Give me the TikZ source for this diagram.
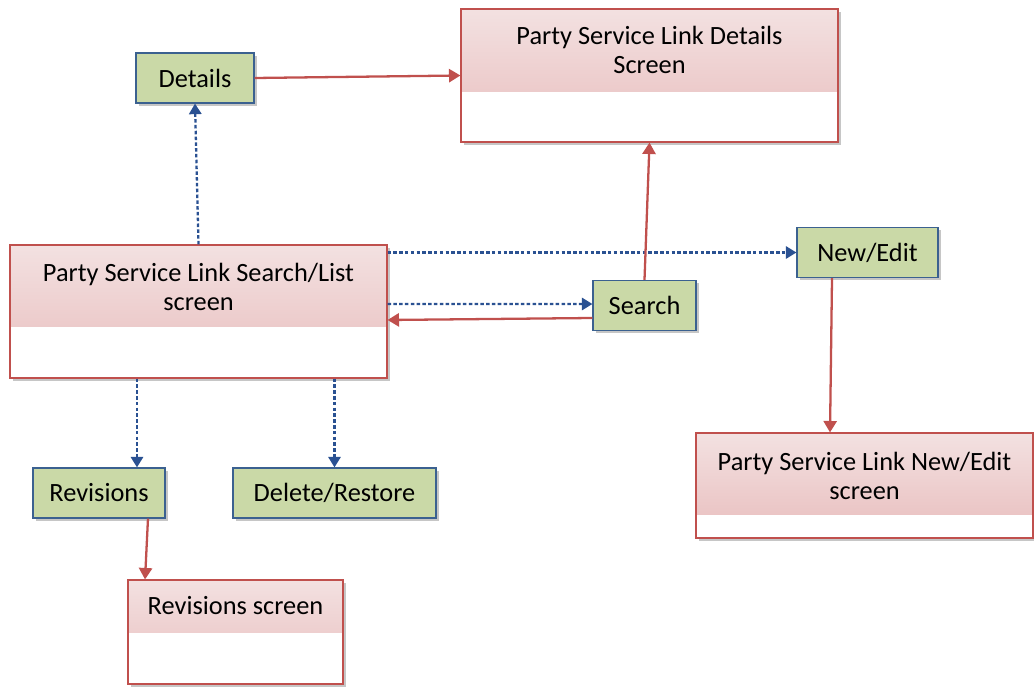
\documentclass[tikz,border=0pt]{standalone}
\usepackage{fontspec}
\setmainfont{Carlito}
\usetikzlibrary{arrows.meta,shadows}
\definecolor{scrred}{HTML}{C0504D}
\definecolor{pinktop}{HTML}{F3E1E1}
\definecolor{pinkbot}{HTML}{E8BDBD}
\definecolor{actfill}{HTML}{CAD9A7}
\definecolor{actline}{HTML}{3B6190}
\definecolor{navlink}{HTML}{2A5192}
\tikzset{
  scrbox/.style={draw=scrred,line width=0.7pt,fill=white,
    drop shadow={shadow xshift=1.6pt,shadow yshift=-1.6pt,opacity=0.45},
    path picture={\shade[top color=pinktop,bottom color=pinkbot]
      (path picture bounding box.north west) rectangle ([yshift=-#1]path picture bounding box.north east);}},
  scrtext/.style={align=center,inner sep=0pt},
  actbox/.style={draw=actline,line width=0.7pt,fill=actfill,minimum height=1cm,
    drop shadow={shadow xshift=1.6pt,shadow yshift=-1.6pt,opacity=0.45}},
  golink/.style={draw=scrred,line width=1.3pt,-{Triangle[width=7.5pt,length=6.5pt]}},
  navlink/.style={draw=navlink,line width=1.3pt,dash pattern=on 2pt off 1.3pt,-{Triangle[width=7pt,length=6pt]}}
}

\begin{document}
\begin{tikzpicture}[x=0.02cm,y=-0.02cm,every node/.style={font=\fontsize{15}{16.5}\selectfont}]
\useasboundingbox (0,0) rectangle (1034,686);
% screens
\foreach \name/\x/\y/\w/\h/\p/\ty/\lab in {%
  dscr/649.5/75.5/7.54/2.66/1.66cm/50/{Party Service Link Details\\Screen},
  lscr/198.5/311.5/7.54/2.66/1.64cm/287/{Party Service Link Search{/}List\\screen},
  nscr/864.5/485.5/6.74/2.10/1.64cm/476/{Party Service Link New{/}Edit\\screen},
  rscr/235.5/632/4.30/2.08/1.04cm/606/{Revisions screen}}{
  \node[scrbox=\p,minimum width=\w cm,minimum height=\h cm] (\name) at (\x,\y) {};
  \node[scrtext] (\name T) at (\x,\ty) {\lab};
}
% actions
\foreach \name/\x/\y/\w/\lab in {%
  det/195/78/2.36/Details,
  srch/644.5/305.5/2.06/Search,
  nedit/867.5/252.5/2.82/{New{/}Edit},
  rev/99/493/2.64/Revisions,
  del/334.5/493/4.06/{Delete{/}Restore}}{
  \node[actbox,minimum width=\w cm] (\name) at (\x,\y) {\lab};
}
% links
\draw[golink] (det.east) -- (dscr.west);
\draw[navlink] (lscr.north) -- (det.south);
\draw[navlink] (lscr.east |- nedit.west) -- (nedit.west);
\draw[navlink] ([yshift=0.15cm]lscr.east) -- ([yshift=0.03cm]srch.west);
\draw[golink] ([yshift=-0.25cm]srch.west) -- ([yshift=-0.17cm]lscr.east);
\draw[golink] (srch.north) -- (dscr.south);
\draw[golink] ([xshift=-0.71cm]nedit.south) -- ([xshift=-0.69cm]nscr.north);
\draw[navlink] ([xshift=0.76cm]rev.north |- lscr.south) -- ([xshift=0.76cm]rev.north);
\draw[navlink] (del.north |- lscr.south) -- (del.north);
\draw[golink] ([xshift=0.98cm]rev.south) -- ([xshift=-1.81cm]rscr.north);
\end{tikzpicture}
\end{document}
